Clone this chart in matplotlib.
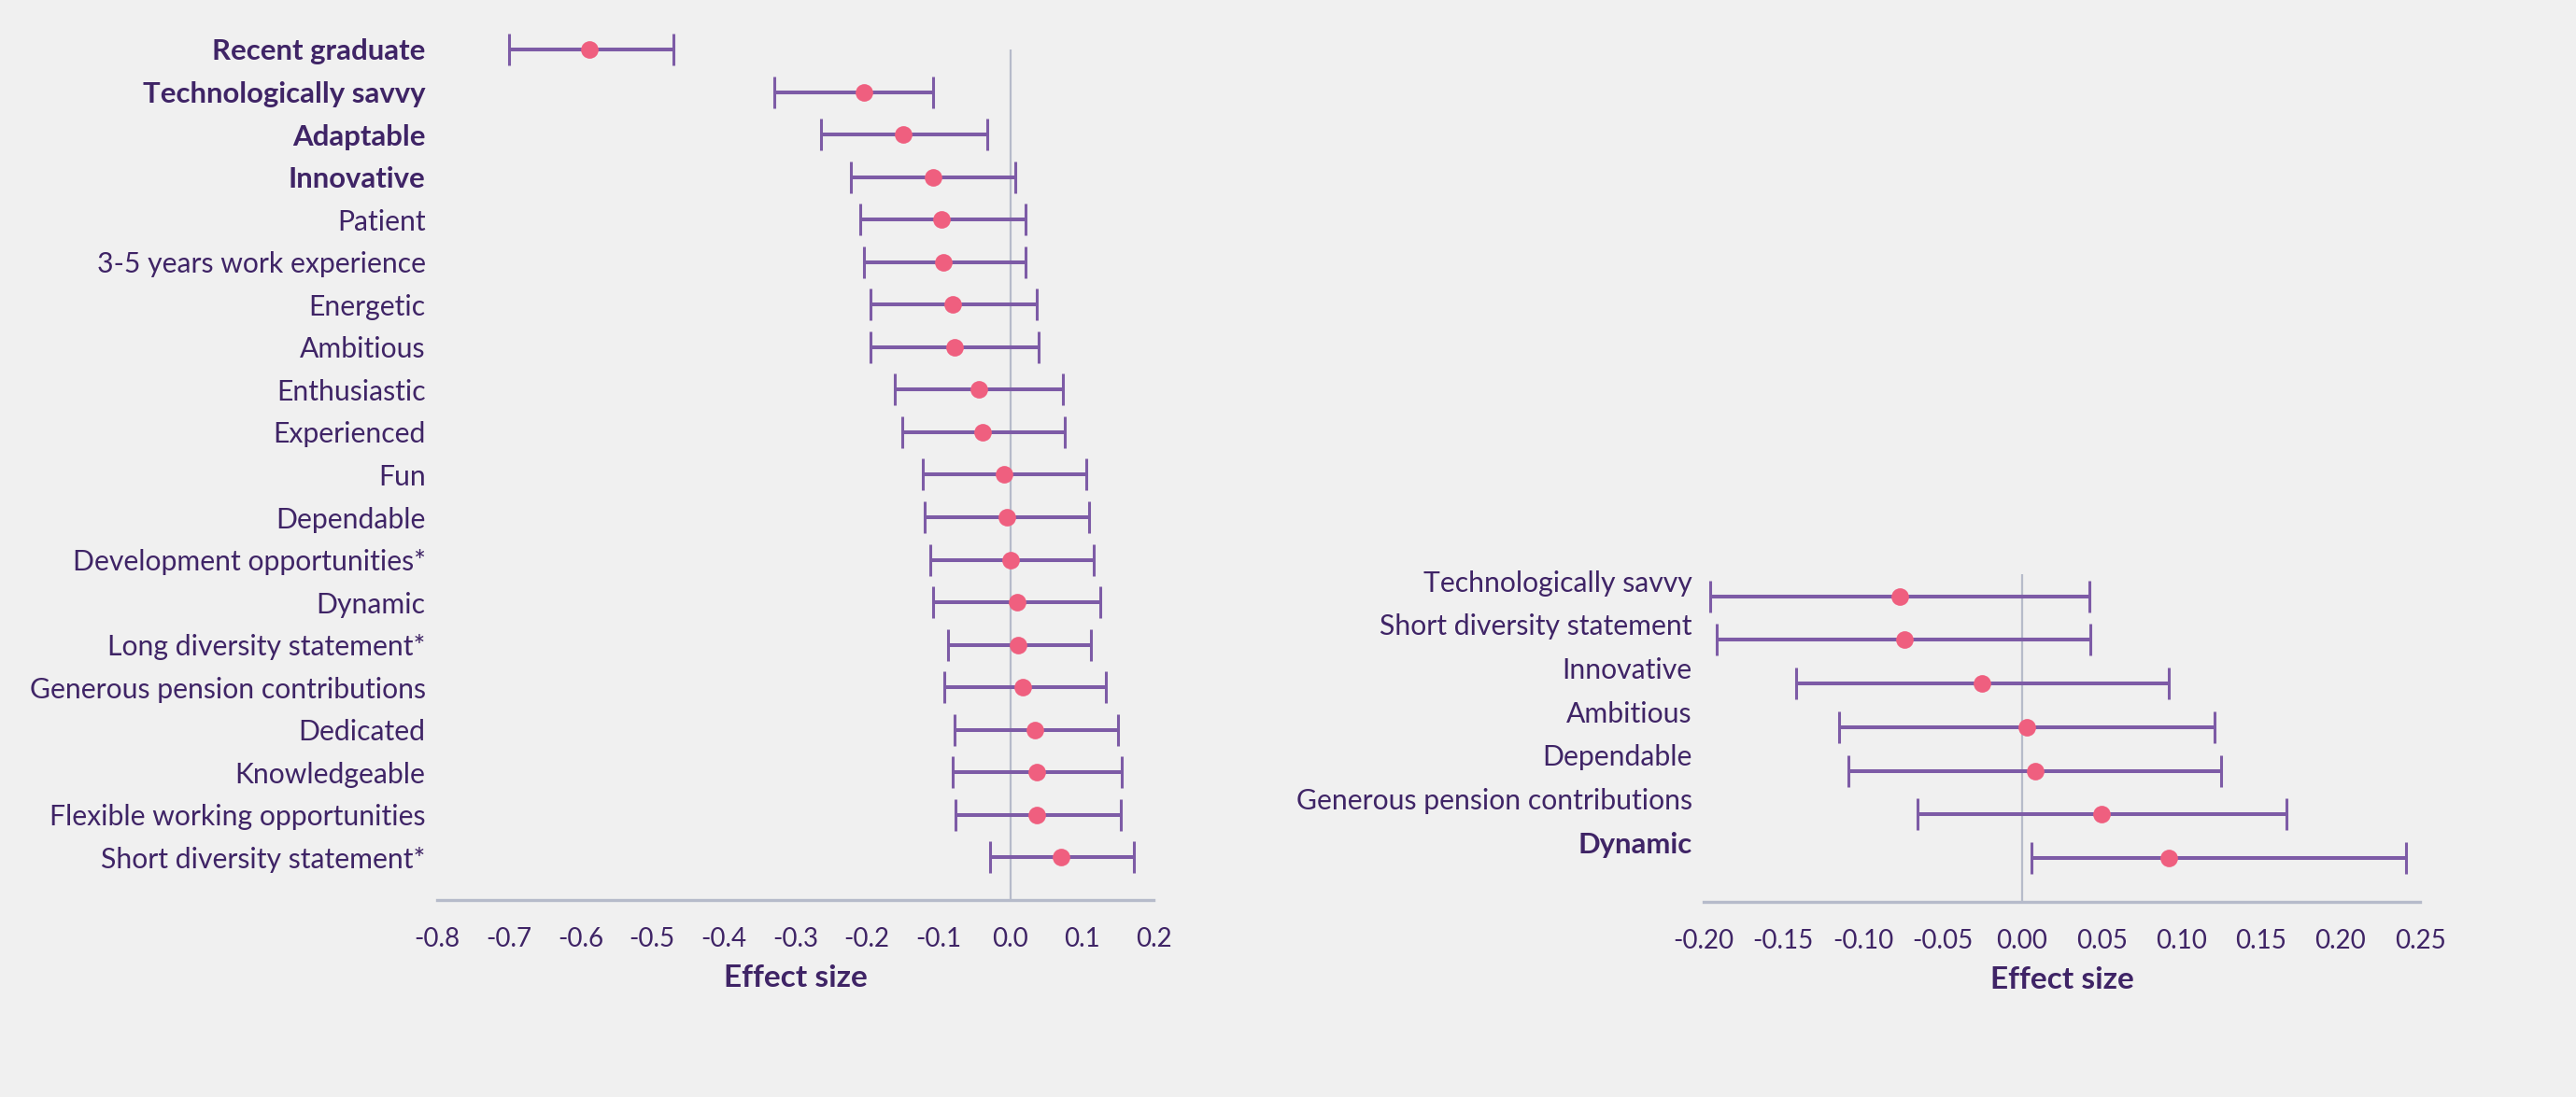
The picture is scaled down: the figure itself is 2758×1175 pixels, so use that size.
import matplotlib.pyplot as plt

# left panel: all attributes
left_labels = ['Recent graduate', 'Technologically savvy', 'Adaptable', 'Innovative',
               'Patient', '3-5 years work experience', 'Energetic', 'Ambitious',
               'Enthusiastic', 'Experienced', 'Fun', 'Dependable',
               'Development opportunities*', 'Dynamic', 'Long diversity statement*',
               'Generous pension contributions', 'Dedicated', 'Knowledgeable',
               'Flexible working opportunities', 'Short diversity statement*']
left_est = [-0.587, -0.204, -0.149, -0.108, -0.096, -0.094, -0.080, -0.078, -0.044, -0.039,
            -0.009, -0.005, 0.000, 0.009, 0.011, 0.018, 0.034, 0.037, 0.037, 0.071]
left_low = [-0.700, -0.330, -0.264, -0.222, -0.209, -0.204, -0.195, -0.195, -0.161, -0.151,
            -0.122, -0.119, -0.112, -0.108, -0.087, -0.092, -0.078, -0.080, -0.076, -0.028]
left_high = [-0.470, -0.108, -0.032, 0.007, 0.021, 0.021, 0.037, 0.039, 0.073, 0.076,
             0.106, 0.110, 0.117, 0.126, 0.112, 0.133, 0.151, 0.156, 0.154, 0.172]
left_bold = ['Recent graduate', 'Technologically savvy', 'Adaptable', 'Innovative']
left_ticks = [-0.8, -0.7, -0.6, -0.5, -0.4, -0.3, -0.2, -0.1, 0.0, 0.1, 0.2]

# right panel: subset
right_labels = ['Technologically savvy', 'Short diversity statement', 'Innovative',
                'Ambitious', 'Dependable', 'Generous pension contributions', 'Dynamic']
right_est = [-0.077, -0.074, -0.025, 0.003, 0.008, 0.050, 0.092]
right_low = [-0.196, -0.192, -0.142, -0.115, -0.109, -0.066, 0.006]
right_high = [0.042, 0.043, 0.092, 0.121, 0.125, 0.166, 0.241]
right_bold = ['Dynamic']
right_ticks = [-0.20, -0.15, -0.10, -0.05, 0.00, 0.05, 0.10, 0.15, 0.20, 0.25]

BG = '#f0f0f0'
TEXT = '#3f2466'
BAR = '#7d5ba6'
DOT = '#ef5f7f'
GREY = '#b6bbca'

plt.rcParams['font.family'] = ['Lato', 'DejaVu Sans']

fig = plt.figure(figsize=(27.58, 11.75), dpi=100, facecolor=BG)


def forest(ax, labels, est, low, high, bold, ticks, xlim, zero_top, fmt, label_shift=0.0):
    n = len(labels)
    y = list(range(n))
    ax.set_facecolor(BG)
    xerr = [[e - l for e, l in zip(est, low)], [h - e for e, h in zip(est, high)]]
    ax.vlines(0, zero_top, n, color=GREY, lw=1.6, zorder=1)
    ax.errorbar(est, y, xerr=xerr, fmt='none', ecolor=BAR, elinewidth=2.9,
                capsize=12, capthick=2.2, zorder=2)
    ax.plot(est, y, 'o', color=DOT, ms=13.5, mec='none', zorder=3)
    ax.set_xlim(*xlim)
    ax.set_ylim(n, -0.5)
    # labels sit slightly above their rows in the right panel
    ax.set_yticks([v - label_shift for v in y])
    ax.set_yticklabels(labels, fontsize=21.7, color=TEXT)
    for t in ax.get_yticklabels():
        if t.get_text() in bold:
            t.set_fontweight('bold')
            t.set_fontsize(22.4)
    ax.set_xticks(ticks)
    ax.set_xticklabels([fmt.format(v) for v in ticks], fontsize=20, color=TEXT)
    ax.tick_params(axis='both', length=0)
    ax.tick_params(axis='y', pad=9)
    ax.tick_params(axis='x', pad=21)
    for s in ['top', 'right', 'left']:
        ax.spines[s].set_visible(False)
    ax.spines['bottom'].set_color(GREY)
    ax.spines['bottom'].set_linewidth(2.4)
    ax.set_xlabel('Effect size', fontsize=24, fontweight='bold', color=TEXT, labelpad=10)


ax1 = fig.add_axes([0.1697, 0.1796, 0.2781, 0.7947])
forest(ax1, left_labels, left_est, left_low, left_high, left_bold, left_ticks,
       (-0.8, 0.2), 0.0, '{:.1f}')

ax2 = fig.add_axes([0.6614, 0.1782, 0.2781, 0.2980])
forest(ax2, right_labels, right_est, right_low, right_high, right_bold, right_ticks,
       (-0.20, 0.25), -0.5, '{:.2f}', label_shift=0.36)

plt.savefig('out.png', dpi=100, facecolor=BG)
